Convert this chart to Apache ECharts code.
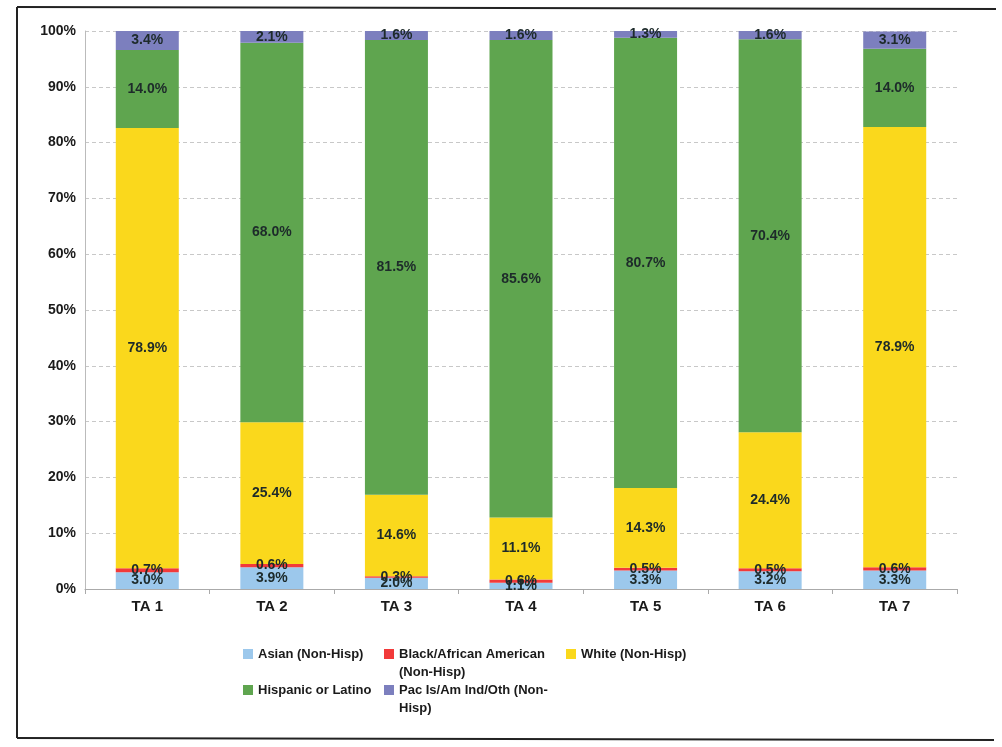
<!DOCTYPE html>
<html>
<head>
<meta charset="utf-8">
<script src="https://cdn.jsdelivr.net/npm/echarts@6/dist/echarts.min.js"></script>
<style>html,body{margin:0;padding:0;background:#fff;}#c{width:1002px;height:747px;}</style>
</head>
<body>
<div id="c"></div>
<script>
const categories = ['TA 1','TA 2','TA 3','TA 4','TA 5','TA 6','TA 7'];
const asian    = [3.0, 3.9, 2.0, 1.1, 3.3, 3.2, 3.3];
const black    = [0.7, 0.6, 0.3, 0.6, 0.5, 0.5, 0.6];
const white    = [78.9, 25.4, 14.6, 11.1, 14.3, 24.4, 78.9];
const hispanic = [14.0, 68.0, 81.5, 85.6, 80.7, 70.4, 14.0];
const pacis    = [3.4, 2.1, 1.6, 1.6, 1.3, 1.6, 3.1];
const yTicks = [0,10,20,30,40,50,60,70,80,90,100];

const seriesNames = ['Asian (Non-Hisp)','Black/African American (Non-Hisp)','White (Non-Hisp)','Hispanic or Latino','Pac Is/Am Ind/Oth (Non-Hisp)'];
const seriesData = [asian, black, white, hispanic, pacis];
const colors = ['#9cc8ec','#f23a3a','#fad81c','#5fa54f','#7c7fbe'];
const legendText = {
  'Asian (Non-Hisp)':'Asian (Non-Hisp)',
  'Black/African American (Non-Hisp)':' \nBlack/African American\n(Non-Hisp)',
  'White (Non-Hisp)':'White (Non-Hisp)',
  'Hispanic or Latino':'Hispanic or Latino',
  'Pac Is/Am Ind/Oth (Non-Hisp)':' \nPac Is/Am Ind/Oth (Non-\nHisp)'
};
const legendPos = [[243,645],[384,627],[566,645],[243,681],[384,663]];
const FONT = '"Liberation Sans", Arial, sans-serif';

const chart = echarts.init(document.getElementById('c'));
chart.setOption({
  animation:false,
  backgroundColor:'#fff',
  grid:{left:85,right:45,top:31,bottom:158,containLabel:false},
  xAxis:{
    type:'category', data:categories,
    axisLine:{lineStyle:{color:'#aaa',width:1}},
    axisTick:{show:true,length:5,lineStyle:{color:'#aaa'}},
    axisLabel:{fontFamily:FONT,fontWeight:'bold',fontSize:15,color:'#1a1a1a',margin:10}
  },
  yAxis:{
    type:'value', min:0, max:100, interval:10,
    axisLine:{show:true,lineStyle:{color:'#bbb'}},
    axisTick:{show:false},
    splitLine:{lineStyle:{color:'#c8c8c8',type:[4,3]}},
    axisLabel:{fontFamily:FONT,fontWeight:'bold',fontSize:14,color:'#1a1a1a',margin:9,
      formatter:(v)=> yTicks.includes(v) ? v+'%' : ''}
  },
  legend: seriesNames.map((n,i)=>({
    data:[n], left:legendPos[i][0], top:legendPos[i][1],
    orient:'horizontal', icon:'rect', itemWidth:10, itemHeight:10, itemGap:0,
    selectedMode:false, padding:0,
    formatter:(name)=>legendText[name],
    textStyle:{fontFamily:FONT,fontWeight:'bold',fontSize:13,color:'#1a1a1a',lineHeight:18}
  })),
  series: seriesNames.map((n,i)=>({
    name:n, type:'bar', stack:'total', data:seriesData[i], barWidth:63,
    itemStyle:{color:colors[i]},
    label:{show:true, position:'inside', fontFamily:FONT, fontWeight:'bold', fontSize:14,
      color:'#1d2a2a', formatter:(p)=>p.value.toFixed(1)+'%'}
  })),
  graphic:[
    {type:'line',shape:{x1:17,y1:7,x2:17,y2:738},style:{stroke:'#222',lineWidth:2},silent:true},
    {type:'line',shape:{x1:17,y1:7,x2:996,y2:9},style:{stroke:'#222',lineWidth:2},silent:true},
    {type:'line',shape:{x1:17,y1:738,x2:994,y2:740},style:{stroke:'#222',lineWidth:2},silent:true}
  ]
});
</script>
</body>
</html>
